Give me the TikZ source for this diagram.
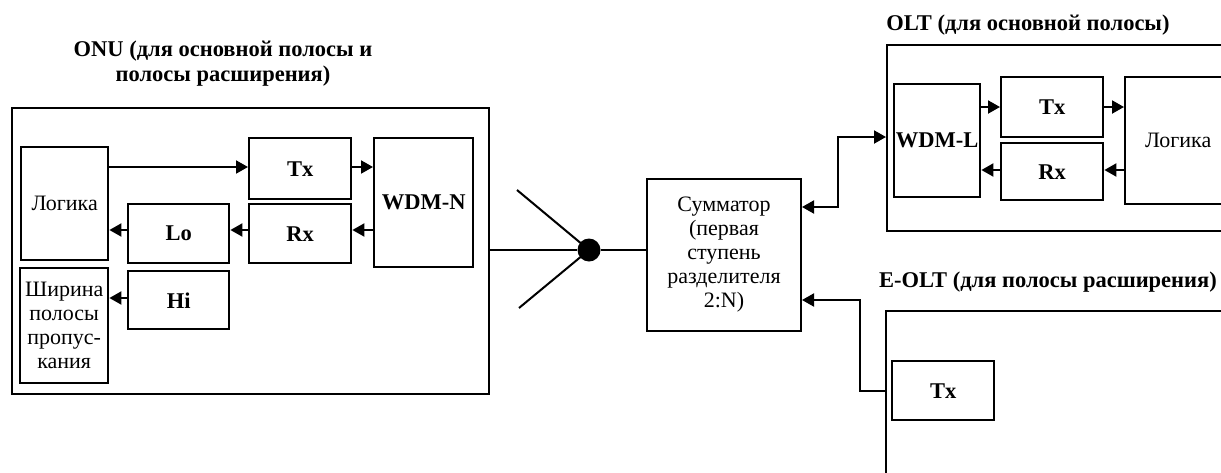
\documentclass[tikz,border=0pt]{standalone}
\usepackage{fontspec}
\setmainfont{Liberation Serif}
\usetikzlibrary{arrows.meta}
\begin{document}
\begin{tikzpicture}[x=1pt,y=-1pt,
  blk/.style={draw, line width=2.4pt, anchor=north west, inner sep=0pt, align=center,
    font=\fontsize{22}{24}\selectfont},
  bl/.style={blk, font=\fontsize{22.5}{25}\selectfont\bfseries},
  outer/.style={draw, line width=2pt, anchor=north west, inner sep=0pt},
  ttl/.style={font=\fontsize{22.5}{25}\selectfont\bfseries, align=center, inner sep=0pt},
  conn/.style={line width=2pt, -{Triangle[length=12pt,width=13pt]}},
  biconn/.style={line width=2pt, {Triangle[length=12pt,width=13pt]}-{Triangle[length=12pt,width=13pt]}},
  fiber/.style={line width=1.2pt},
  branch/.style={line width=2pt}]
\useasboundingbox (0,0) rectangle (1221,472);
\clip (0,0) rectangle (1221,472);
\fill[white] (0,0) rectangle (1221,472);

% ---------- ONU ----------
\node[ttl] (onut) at (223,64) {ONU (для основной полосы и\\полосы расширения)};
\node[outer, minimum width=477pt, minimum height=286pt] (onu) at (11,107) {};
\node[blk, minimum width=87pt, minimum height=113pt] (nlog) at (20,146) {Логика};
\node[blk, minimum width=88pt, minimum height=115pt] (nbw) at (19,267) {Ширина\\полосы\\пропус-\\кания};
\node[bl, minimum width=102pt, minimum height=61pt] (ntx) at (248,137) {Tx};
\node[bl, minimum width=102pt, minimum height=59pt] (nrx) at (248,203) {Rx};
\node[bl, minimum width=99pt, minimum height=129pt] (nwdm) at (373,137) {WDM-N};
\node[bl, minimum width=101pt, minimum height=59pt] (nlo) at (127,203) {Lo};
\node[bl, minimum width=101pt, minimum height=58pt] (nhi) at (127,270) {Hi};

\draw[conn] (nlog.east |- 0,167) -- (ntx.west |- 0,167);
\draw[conn] (ntx.east |- 0,167) -- (nwdm.west |- 0,167);
\draw[conn] (nwdm.west |- 0,230) -- (nrx.east |- 0,230);
\draw[conn] (nrx.west |- 0,230) -- (nlo.east |- 0,230);
\draw[conn] (nlo.west |- 0,230) -- (nlog.east |- 0,230);
\draw[conn] (nhi.west |- 0,298) -- (nbw.east |- 0,298);

% ---------- splitter ----------
\node[circle, fill=black, minimum size=23pt, inner sep=0pt] (dot) at (589,250) {};
\coordinate (bu) at (517,190);
\coordinate (bd) at (519,308);
\node[blk, minimum width=154pt, minimum height=152pt, line width=2pt] (summ) at (646,178)
  {Сумматор\\(первая\\ступень\\разделителя\\2:N)};
\draw[fiber] (onu.east |- 0,250) -- (dot);
\draw[fiber] (dot) -- (summ.west |- 0,250);
\draw[branch] (bu) -- (dot.center);
\draw[branch] (bd) -- (dot.center);

% ---------- OLT ----------
\node[ttl] (oltt) at (1028,25) {OLT (для основной полосы)};
\node[outer, minimum width=400pt, minimum height=186pt] (olt) at (886,44) {};
\node[bl, minimum width=86pt, minimum height=113pt] (lwdm) at (893,83) {WDM-L};
\node[bl, minimum width=102pt, minimum height=60pt] (ltx) at (1000,76) {Tx};
\node[bl, minimum width=102pt, minimum height=57pt] (lrx) at (1000,142) {Rx};
\node[blk, minimum width=106pt, minimum height=127pt] (llog) at (1124,76) {Логика};

\draw[conn] (lwdm.east |- 0,107) -- (ltx.west |- 0,107);
\draw[conn] (ltx.east |- 0,107) -- (llog.west |- 0,107);
\draw[conn] (llog.west |- 0,170) -- (lrx.east |- 0,170);
\draw[conn] (lrx.west |- 0,170) -- (lwdm.east |- 0,170);

% ---------- E-OLT ----------
\node[ttl] (eoltt) at (1048,282) {E-OLT (для полосы расширения)};
\node[outer, minimum width=400pt, minimum height=250pt] (eolt) at (885,310) {};
\node[bl, minimum width=102pt, minimum height=59pt] (etx) at (891,360) {Tx};

% ---------- links to summator ----------
\draw[biconn] (summ.east |- 0,207) -- (838,207) |- (olt.west |- 0,137);
\draw[conn] (eolt.west |- 0,391) -- (860,391) |- (summ.east |- 0,300);
\end{tikzpicture}
\end{document}
